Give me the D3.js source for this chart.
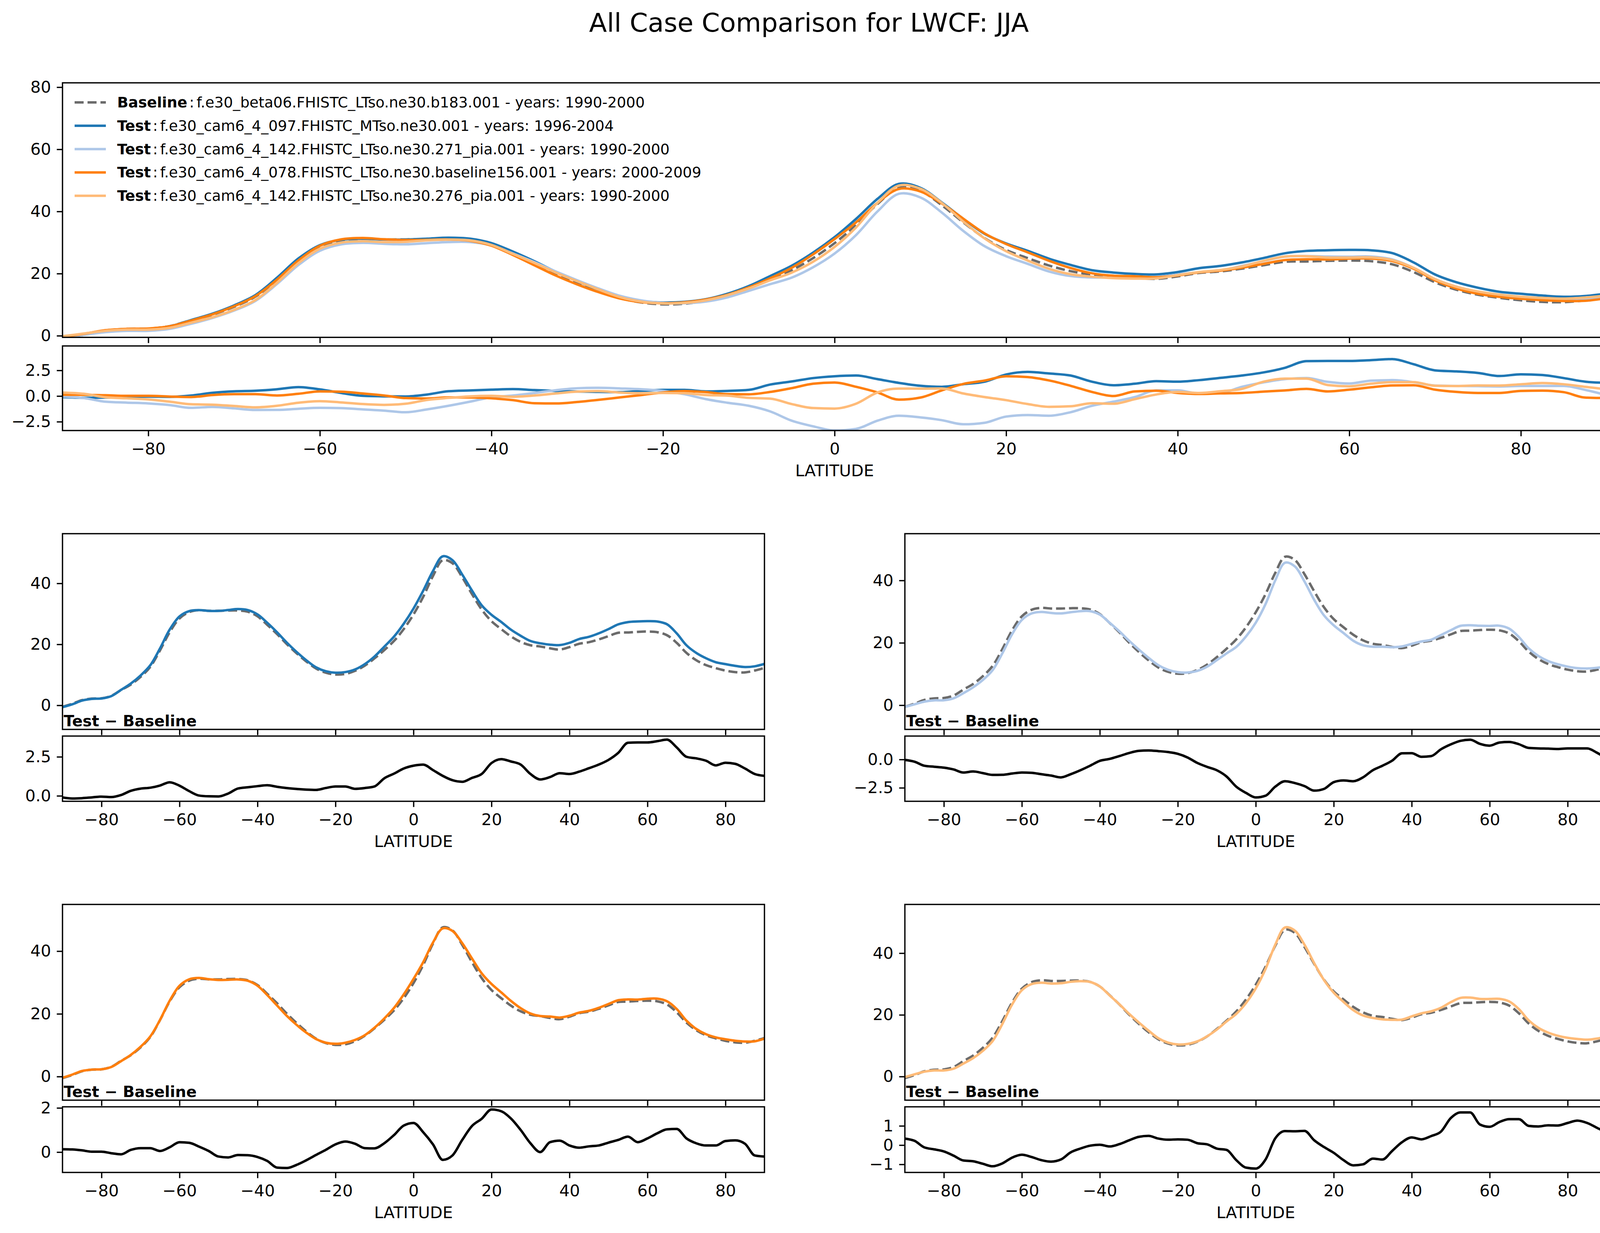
<!DOCTYPE html>
<html><head><meta charset="utf-8">
<script src="https://cdn.jsdelivr.net/npm/d3@7"></script>
<style>
body{margin:0;background:#fff;overflow:hidden}
svg{display:block}
text{font-family:"DejaVu Sans",sans-serif;fill:#000}
</style>
</head><body>
<svg id="chart" width="4142" height="3156"></svg>
<script>
// ---------------- DATA ----------------
const latitude = [-90,-87.5,-85,-82.5,-80,-77.5,-75,-72.5,-70,-67.5,-65,-62.5,-60,-57.5,-55,-52.5,-50,-47.5,-45,-42.5,-40,-37.5,-35,-32.5,-30,-27.5,-25,-22.5,-20,-17.5,-15,-12.5,-10,-7.5,-5,-2.5,0,2.5,5,7.5,10,12.5,15,17.5,20,22.5,25,27.5,30,32.5,35,37.5,40,42.5,45,47.5,50,52.5,55,57.5,60,62.5,65,67.5,70,72.5,75,77.5,80,82.5,85,87.5,90];

const baseline = [-0.5,0.5,1.7,2.2,2.3,3.1,5.0,6.8,9.3,12.6,18,24,28.5,30.6,31.2,31.0,31.0,31.1,31.1,30.7,29.2,26.4,23.4,20.1,17.1,14.4,12.1,10.7,10.1,10.3,11.3,13,15.4,18.1,21.1,25,29.8,35.6,42.4,47.6,46.6,42,36.5,31.4,27.6,25,22.6,20.8,19.7,19.3,18.7,18.3,19.1,20.2,20.7,21.6,22.7,23.8,23.9,24.1,24.2,24,23,20.5,17.2,14.8,13.2,12.2,11.4,10.9,10.8,11.4,12.3];

const test1 = [-0.6,0.33,1.55,2.1,2.25,3.02,5.05,7.12,9.76,13.12,18.66,24.87,29.15,30.9,31.22,30.97,30.96,31.25,31.57,31.25,29.82,27.08,23.98,20.6,17.54,14.8,12.48,11.2,10.7,10.9,11.75,13.5,16.0,19.22,22.52,26.75,31.73,37.6,44.05,48.88,47.6,42.9,37.65,32.8,29.7,27.35,24.8,22.8,21.1,20.35,19.9,19.75,20.5,21.75,22.47,23.6,25.0,26.55,27.3,27.52,27.62,27.5,26.6,23.6,19.7,17.2,15.45,14.15,13.52,12.95,12.55,12.8,13.58];

const test2 = [-0.54,0.3,1.15,1.56,1.58,2.22,3.85,5.74,8.1,11.24,16.65,22.76,27.35,29.42,29.9,29.58,29.42,29.8,30.15,30.15,29.08,26.45,23.7,20.67,17.86,15.2,12.84,11.36,10.6,10.48,11.0,12.35,14.45,16.6,18.7,22.05,26.45,32.4,40.0,45.68,44.52,39.65,33.75,28.8,25.6,23.15,20.68,19.22,18.75,18.75,18.6,18.85,19.66,20.44,21.0,22.5,24.03,25.45,25.65,25.48,25.42,25.5,24.55,21.85,18.22,15.78,14.16,13.13,12.38,11.88,11.78,12.0,12.39];

const test3 = [-0.37,0.62,1.78,2.22,2.32,3.05,4.9,6.9,9.48,12.78,18.05,24.22,28.95,31.02,31.45,31.05,30.8,30.86,30.97,30.56,28.98,26.0,22.7,19.38,16.52,14.03,11.97,10.8,10.45,10.78,11.68,13.18,15.57,18.5,21.87,26.2,31.12,36.5,42.75,47.25,46.45,42.55,37.68,32.91,29.53,26.85,24.12,21.8,20.1,19.3,19.15,18.82,19.4,20.4,20.96,21.9,23.13,24.35,24.6,24.55,24.82,24.85,24.03,21.55,17.82,15.2,13.5,12.5,11.9,11.43,11.18,11.25,12.1];

const test4 = [-0.16,0.72,1.58,1.98,1.97,2.55,4.2,5.96,8.33,11.5,17.05,23.35,28.0,29.98,30.42,30.14,30.25,30.72,30.92,30.67,29.22,26.33,23.45,20.35,17.53,14.88,12.44,10.98,10.4,10.58,11.4,13.04,15.22,17.85,20.32,23.83,28.58,34.85,42.75,48.33,47.32,42.74,36.75,31.3,27.2,24.22,21.55,19.8,19.0,18.55,18.4,18.45,19.5,20.5,21.17,22.3,24.1,25.5,25.6,25.17,25.15,25.2,24.35,21.85,18.2,15.77,14.23,13.22,12.55,12.17,11.95,12.3,12.95];

const diff1 = [-0.1,-0.17,-0.15,-0.1,-0.05,-0.08,0.05,0.32,0.46,0.52,0.66,0.87,0.65,0.3,0.02,-0.03,-0.04,0.15,0.47,0.55,0.62,0.68,0.58,0.5,0.44,0.4,0.38,0.5,0.6,0.6,0.45,0.5,0.6,1.12,1.42,1.75,1.93,2.0,1.65,1.28,1.0,0.9,1.15,1.4,2.1,2.35,2.2,2.0,1.4,1.05,1.2,1.45,1.4,1.55,1.77,2.0,2.3,2.75,3.4,3.42,3.42,3.5,3.6,3.1,2.5,2.4,2.25,1.95,2.12,2.05,1.75,1.4,1.28];

const diff2 = [-0.04,-0.2,-0.55,-0.64,-0.72,-0.88,-1.15,-1.06,-1.2,-1.36,-1.35,-1.24,-1.15,-1.18,-1.3,-1.42,-1.58,-1.3,-0.95,-0.55,-0.12,0.05,0.3,0.57,0.76,0.8,0.74,0.66,0.5,0.18,-0.3,-0.65,-0.95,-1.5,-2.4,-2.95,-3.35,-3.2,-2.4,-1.92,-2.08,-2.35,-2.75,-2.6,-2.0,-1.85,-1.92,-1.58,-0.95,-0.55,-0.1,0.55,0.56,0.24,0.3,0.9,1.33,1.65,1.75,1.38,1.22,1.5,1.55,1.35,1.02,0.98,0.96,0.93,0.98,0.98,0.98,0.6,0.09];

const diff3 = [0.13,0.12,0.08,0.02,0.02,-0.05,-0.1,0.1,0.18,0.18,0.05,0.22,0.45,0.42,0.25,0.05,-0.2,-0.24,-0.13,-0.14,-0.22,-0.4,-0.7,-0.72,-0.58,-0.37,-0.13,0.1,0.35,0.48,0.38,0.18,0.17,0.4,0.77,1.2,1.32,0.9,0.35,-0.35,-0.15,0.55,1.18,1.51,1.93,1.85,1.52,1.0,0.4,0.0,0.45,0.52,0.3,0.2,0.26,0.3,0.43,0.55,0.7,0.45,0.62,0.85,1.03,1.05,0.62,0.4,0.3,0.3,0.5,0.53,0.38,-0.15,-0.2];

const diff4 = [0.34,0.22,-0.12,-0.22,-0.33,-0.55,-0.8,-0.84,-0.97,-1.1,-0.95,-0.65,-0.5,-0.62,-0.78,-0.86,-0.75,-0.38,-0.18,-0.03,0.02,-0.07,0.05,0.25,0.43,0.48,0.34,0.28,0.3,0.28,0.1,0.04,-0.18,-0.25,-0.78,-1.17,-1.22,-0.75,0.35,0.73,0.72,0.74,0.25,-0.1,-0.4,-0.78,-1.05,-1.0,-0.7,-0.75,-0.3,0.15,0.4,0.3,0.47,0.7,1.4,1.7,1.7,1.07,0.95,1.2,1.35,1.35,1.0,0.97,1.03,1.02,1.15,1.27,1.15,0.9,0.65];

const legendRoles = ["Baseline","Test","Test","Test","Test"];
const legendCases = [
  "f.e30_beta06.FHISTC_LTso.ne30.b183.001 - years: 1990-2000",
  "f.e30_cam6_4_097.FHISTC_MTso.ne30.001 - years: 1996-2004",
  "f.e30_cam6_4_142.FHISTC_LTso.ne30.271_pia.001 - years: 1990-2000",
  "f.e30_cam6_4_078.FHISTC_LTso.ne30.baseline156.001 - years: 2000-2009",
  "f.e30_cam6_4_142.FHISTC_LTso.ne30.276_pia.001 - years: 1990-2000"
];
const testColors = ["#1f77b4","#aec7e8","#ff7f0e","#ffbb78"];
const baselineColor = "#6b6b6b";

const xTicks = [-80,-60,-40,-20,0,20,40,60,80];
const topMainTicks = [0,20,40,60,80];
const topDiffTicks = [-2.5,0,2.5];
const subMainTicks = [0,20,40];
const diffTicks1 = [0,2.5];
const diffTicks2 = [-2.5,0];
const diffTicks3 = [0,2];
const diffTicks4 = [-1,0,1];

const titleText = "All Case Comparison for LWCF: JJA";
const xLabel = "LATITUDE";
const diffLabel = "Test \u2212 Baseline";

// ---------------- DRAWING ----------------
const svg = d3.select("#chart");
svg.append("rect").attr("width",4142).attr("height",3156).attr("fill","#fff");

const LW = 6.25, SP = 3.33, TICK = 14.6, TFS = 41.7;
const tests = [test1,test2,test3,test4];
const diffs = [diff1,diff2,diff3,diff4];
const fmtMinus = f => v => f(v).replace("-", "\u2212");
let clipN = 0;

function drawAxes(o){
  const x = d3.scaleLinear().domain([-90,90]).range([o.x0,o.x1]);
  const y = d3.scaleLinear().domain(o.yDomain).range([o.y1,o.y0]);
  const g = svg.append("g");
  const id = "clip"+(clipN++);
  svg.append("clipPath").attr("id",id).append("rect")
    .attr("x",o.x0).attr("y",o.y0).attr("width",o.x1-o.x0).attr("height",o.y1-o.y0);
  const lines = g.append("g").attr("clip-path",`url(#${id})`);
  o.series.forEach(s=>{
    const line = d3.line()
      .x((d,i)=>x(latitude[i])).y(d=>y(d))
      .curve(s.curve || d3.curveCatmullRom.alpha(0.5));
    lines.append("path").datum(s.values)
      .attr("d",line).attr("fill","none")
      .attr("stroke",s.color).attr("stroke-width",LW)
      .attr("stroke-linejoin","round").attr("stroke-linecap", s.dash ? "butt" : "round")
      .attr("stroke-dasharray", s.dash || null);
  });
  const xa = g.append("g").attr("transform",`translate(0,${o.y1})`)
    .call(d3.axisBottom(x).tickValues(xTicks).tickSize(TICK).tickPadding(17)
      .tickFormat(o.xLabels ? fmtMinus(d3.format("d")) : ""));
  const ya = g.append("g").attr("transform",`translate(${o.x0},0)`)
    .call(d3.axisLeft(y).tickValues(o.yTicks).tickSize(TICK).tickPadding(14.6)
      .tickFormat(fmtMinus(o.yFmt)));
  [xa,ya].forEach(a=>{
    a.select(".domain").remove();
    a.selectAll(".tick line").attr("stroke","#000").attr("stroke-width",SP);
    a.selectAll(".tick text").attr("font-size",TFS).attr("font-family","DejaVu Sans").attr("fill","#000");
  });
  g.append("rect").attr("x",o.x0).attr("y",o.y0).attr("width",o.x1-o.x0).attr("height",o.y1-o.y0)
    .attr("fill","none").attr("stroke","#000").attr("stroke-width",SP);
  if (o.xLabels){
    g.append("text").attr("x",(o.x0+o.x1)/2).attr("y",o.y1+117)
      .attr("text-anchor","middle").attr("font-size",TFS).text(xLabel);
  }
  if (o.diffText){
    g.append("text").attr("x",o.x0+3).attr("y",o.y1-8)
      .attr("font-size",39.5).attr("font-weight","bold").text(diffLabel);
  }
  return g;
}

svg.append("text").attr("x",2071).attr("y",80.7).attr("text-anchor","middle")
  .attr("font-size",66.7).text(titleText);

const dash = "23.1,10";
const baseSeries = {values: baseline, color: baselineColor, dash: dash};

drawAxes({x0:160,x1:4113,y0:212,y1:863.5,yDomain:[-0.52,81.4],yTicks:topMainTicks,yFmt:d3.format("d"),
  xLabels:false, series:[baseSeries].concat(tests.map((t,i)=>({values:t,color:testColors[i]})))});
drawAxes({x0:160,x1:4113,y0:885.5,y1:1102,yDomain:[-3.36,4.88],yTicks:topDiffTicks,yFmt:d3.format(".1f"),
  xLabels:true, series:diffs.map((t,i)=>({values:t,color:testColors[i],curve:d3.curveMonotoneX}))});

const leg = svg.append("g");
legendRoles.forEach((r,i)=>{
  const yy = 262 + i*59.8;
  leg.append("line").attr("x1",191).attr("x2",271).attr("y1",yy).attr("y2",yy)
    .attr("stroke", i===0 ? baselineColor : testColors[i-1]).attr("stroke-width",LW)
    .attr("stroke-dasharray", i===0 ? dash : null);
  const t = leg.append("text").attr("x",300).attr("y",yy+13).attr("font-size",37.5);
  t.append("tspan").attr("font-weight","bold").text(r);
  t.append("tspan").attr("dx",5).text(":");
  t.append("tspan").attr("dx",6).text(legendCases[i]);
});

const subs = [
  {x0:160,x1:1957,my:[1366,1867],dy:[1884,2051],mdom:[-7.9,56.3],ddom:[-0.35,3.83],dt:diffTicks1,df:d3.format(".1f")},
  {x0:2316.5,x1:4113,my:[1366,1867],dy:[1884,2051],mdom:[-7.76,55.0],ddom:[-3.69,2.07],dt:diffTicks2,df:d3.format(".1f")},
  {x0:160,x1:1957,my:[2315,2816],dy:[2833,3001],mdom:[-7.53,54.9],ddom:[-0.92,2.05],dt:diffTicks3,df:d3.format("d")},
  {x0:2316.5,x1:4113,my:[2315,2816],dy:[2833,3001],mdom:[-7.66,55.8],ddom:[-1.42,1.99],dt:diffTicks4,df:d3.format("d")}
];
subs.forEach((p,i)=>{
  drawAxes({x0:p.x0,x1:p.x1,y0:p.my[0],y1:p.my[1],yDomain:p.mdom,yTicks:subMainTicks,yFmt:d3.format("d"),
    xLabels:false,diffText:true,series:[baseSeries,{values:tests[i],color:testColors[i]}]});
  drawAxes({x0:p.x0,x1:p.x1,y0:p.dy[0],y1:p.dy[1],yDomain:p.ddom,yTicks:p.dt,yFmt:p.df,
    xLabels:true,series:[{values:diffs[i],color:"#000",curve:d3.curveMonotoneX}]});
});
</script>
</body></html>
